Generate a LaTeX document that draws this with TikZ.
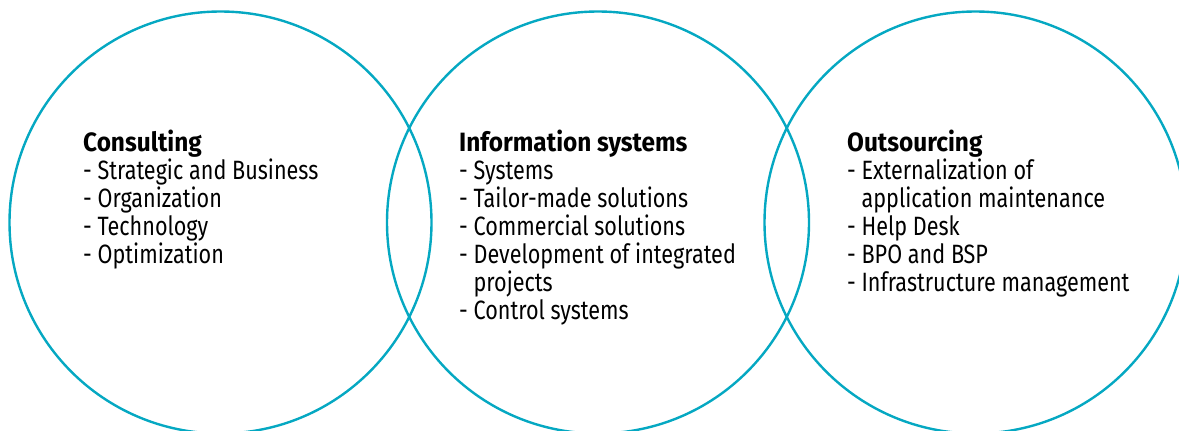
\documentclass[tikz,border=0pt]{standalone}
\usepackage{fontspec}
\setmainfont[FakeStretch=0.815,BoldFeatures={FakeStretch=0.92}]{Fira Sans}
\definecolor{ring}{HTML}{05A8C2}
\begin{document}
\begin{tikzpicture}[x=1pt,y=-1pt,
  ring/.style={circle,draw=ring,line width=2.4pt,minimum size=422pt,inner sep=0pt},
  body/.style={anchor=base west,inner sep=0pt,align=left,text=black,
    font=\fontsize{26.5}{28}\selectfont}]
\useasboundingbox (0,0) rectangle (1179,431);
\clip (0,0) rectangle (1179,431);
\node[ring] (c1) at (220.5,222.5) {};
\node[ring] (c2) at (598,222.5) {};
\node[ring] (c3) at (975.5,222.5) {};
\node[body] (t1) at (83,263) {\textbf{Consulting}\\- Strategic and Business\\- Organization\\- Technology\\- Optimization};
\node[body] (t2) at (459,319) {\textbf{Information systems}\\- Systems\\- Tailor-made solutions\\- Commercial solutions\\- Development of integrated\\\hphantom{- }projects\\- Control systems};
\node[body] (t3) at (847,291) {\textbf{Outsourcing}\\- Externalization of\\\hphantom{- }application maintenance\\- Help Desk\\- BPO and BSP\\- Infrastructure management};
\end{tikzpicture}
\end{document}
